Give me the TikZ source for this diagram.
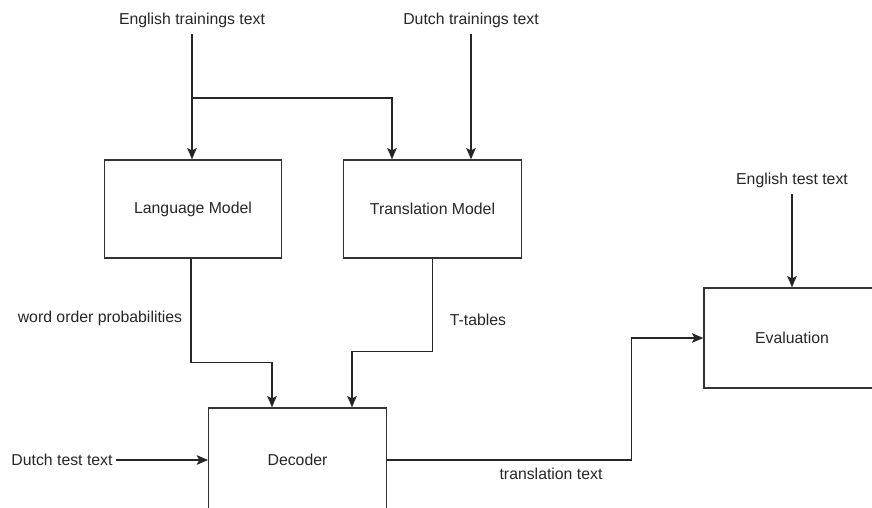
\documentclass[tikz,border=0pt]{standalone}
\usepackage{fontspec}
\setmainfont{Liberation Sans}
\usetikzlibrary{arrows.meta}

\tikzset{
  block/.style={draw=black!80, line width=0.8pt, minimum width=3.55cm, minimum height=1.96cm, inner sep=0pt},
  lbl/.style={text=black!85, font=\fontsize{9}{11}\selectfont},
  arr/.style={draw=black!85, line width=0.8pt, -{Stealth[length=6.5pt, width=5.5pt, inset=1.5pt]}}
}

\begin{document}
\begin{tikzpicture}[x=0.02cm, y=-0.02cm]

\clip (0,0) rectangle (872,507);

%boxes
\node[block, lbl] (lm) at (193,209) {Language Model};
\node[block, lbl] (tm) at (432.5,209) {Translation Model};
\node[block, lbl, minimum height=2.08cm] (dec) at (297.5,460) {Decoder};
\node[block, lbl, minimum width=3.52cm, minimum height=2cm] (ev) at (792,338) {Evaluation};

%input texts
\node[lbl] (entrain) at (192,20) {English trainings text};
\node[lbl] (nltrain) at (471,20) {Dutch trainings text};
\node[lbl] (nltest) at (62,460) {Dutch test text};
\node[lbl] (entest) at (792,180) {English test text};

%edge labels
\node[lbl] (wop) at (100,318) {word order probabilities};
\node[lbl] (ttab) at (478,320) {T-tables};
\node[lbl] (trtext) at (551,474) {translation text};

%lines (top)
\coordinate (split) at (192,98);
\draw[arr] (entrain.south) -- (entrain.south |- lm.north);
\draw[arr] (split) -| ([shift={(-40.5,0)}]tm.north);
\draw[arr] (nltrain.south) -- (nltrain.south |- tm.north);

%lines (into decoder)
\draw[arr] ([shift={(-2,0)}]lm.south) |- ([shift={(-25.5,-45)}]dec.north) -- ([shift={(-25.5,0)}]dec.north);
\draw[arr] (tm.south) |- ([shift={(54.5,-56)}]dec.north) -- ([shift={(54.5,0)}]dec.north);
\draw[arr] ([shift={(-3,0)}]nltest.east) -- (dec.west);

%lines (evaluation)
\draw[arr] (dec.east) -| ([shift={(-72,0)}]ev.west) -- (ev.west);
\draw[arr] (entest.south) -- (ev.north);

\end{tikzpicture}
\end{document}
